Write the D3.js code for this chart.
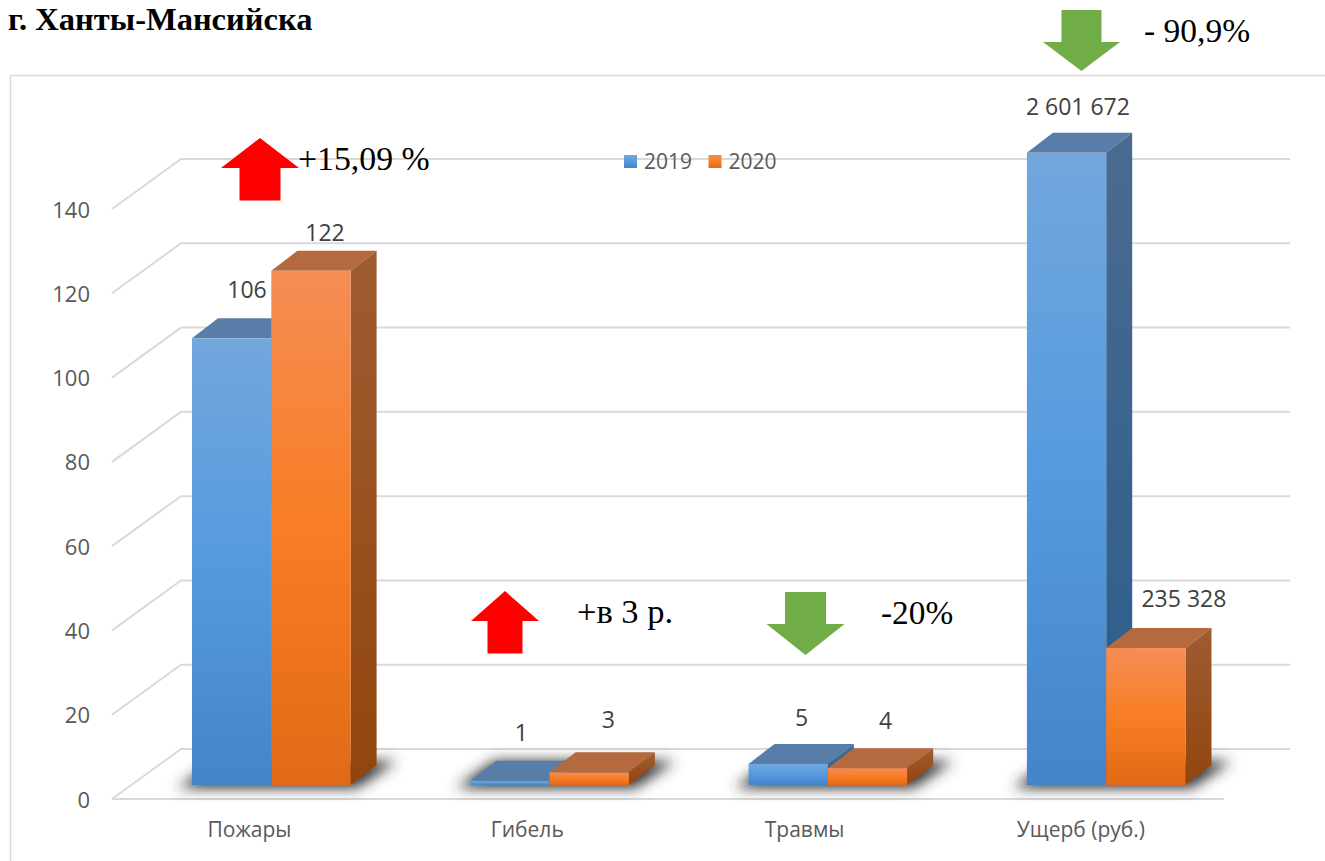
<!DOCTYPE html>
<html><head><meta charset="utf-8">
<script src="https://cdnjs.cloudflare.com/ajax/libs/d3/7.8.5/d3.min.js"></script>
<style>html,body{margin:0;padding:0;background:#fff;overflow:hidden}svg{display:block}</style>
</head><body><svg id="c" width="1325" height="861"></svg>
<script>
const categories = ["Пожары","Гибель","Травмы","Ущерб (руб.)"];
const seriesNames = ["2019","2020"];
const values2019 = [106,1,5,150];
const values2020 = [122,3,4,32.5];
const labels2019 = ["106","1","5","2 601 672"];
const labels2020 = ["122","3","4","235 328"];
const yTicks = [0,20,40,60,80,100,120,140];
const callouts = ["+15,09 %","+в 3 р.","-20%","- 90,9%"];
const calloutDirs = ["up","up","down","down"];
const title = "г. Ханты-Мансийска";

const svg = d3.select("#c");
const sans = "'Open Sans','Noto Sans',sans-serif", serif = "'Liberation Serif',serif";
const y = d3.scaleLinear().domain([0,140]).range([798,208]);
const barBase = 13, wallDx = 69, wallDy = -50, barDx = 26, barDy = -20;
const groupStep = 278.3, firstLeft = 192, barW = 79.3;
const gx = d3.scaleOrdinal().domain(categories).range(categories.map((c,i)=>firstLeft+i*groupStep));

const defs = svg.append("defs");
function grad(id,stops){
  const g=defs.append("linearGradient").attr("id",id).attr("x1",0).attr("x2",0).attr("y1",0).attr("y2",1);
  stops.forEach(s=>g.append("stop").attr("offset",s[0]).attr("stop-color",s[1]));
}
grad("bf",[[0,"#72a7dd"],[.5,"#559adf"],[1,"#4484c8"]]);
grad("of",[[0,"#f58d54"],[.5,"#f87d24"],[1,"#e26a16"]]);
grad("bs",[[0,"#4a6b90"],[1,"#2a5c8c"]]);
grad("os",[[0,"#9f5c32"],[1,"#92450d"]]);
defs.append("filter").attr("id","blur").attr("x","-20%").attr("y","-60%").attr("width","140%").attr("height","220%")
  .append("feGaussianBlur").attr("stdDeviation",7);

// frame
svg.append("path").attr("d","M10.5,861V75.5H1325").attr("fill","none").attr("stroke","#d9d9d9").attr("stroke-width",1.5);

// grid
const grid = svg.append("g").attr("fill","none").attr("stroke","#d9d9d9").attr("stroke-width",2);
yTicks.forEach(t=>{
  const py=y(t)+1;
  grid.append("path").attr("d",`M112,${py}L${112+wallDx},${py+wallDy}H1290`);
});
grid.append("path").attr("d",`M112,799H1224`);

// y labels
svg.append("g").selectAll("text").data(yTicks).join("text")
  .attr("x",90).attr("y",d=>y(d)+9.5).attr("text-anchor","end")
  .attr("font-family",sans).attr("font-size",22).attr("fill","#595959").text(d=>d);
// category labels
const catDx=[57.5,57,56,54];
svg.append("g").selectAll("text").data(categories).join("text")
  .attr("x",(d,i)=>gx(d)+catDx[i]).attr("y",837).attr("text-anchor","middle")
  .attr("font-family",sans).attr("font-size",21).attr("fill","#595959").text(d=>d);

// bars
const h = v => y(0)-y(v);
const base = y(0)-barBase;
function bar(g,left,v,fr,sd,tp){
  const t=base-h(v), r=left+barW;
  g.append("path").attr("fill",tp).attr("d",`M${left},${t}l${barDx},${barDy}H${r+barDx}L${r},${t}Z`);
  g.append("path").attr("fill",`url(#${sd})`).attr("d",`M${r},${t}l${barDx},${barDy}V${base+barDy}L${r},${base}Z`);
  g.append("rect").attr("x",left).attr("y",t).attr("width",barW).attr("height",base-t).attr("fill",`url(#${fr})`);
}
const shadows = svg.append("g").attr("filter","url(#blur)");
categories.forEach(c=>{
  const l=gx(c);
  shadows.append("path").attr("fill","#333").attr("d",`M${l-14},${base+3}H${l+2*barW+6}L${l+2*barW+46},${base-24}H${l+24}Z`);
});
const bars = svg.append("g");
categories.forEach((c,i)=>{
  const l=gx(c);
  bar(bars,l,values2019[i],"bf","bs","#577da8");
  bar(bars,l+barW,values2020[i],"of","os","#b5693e");
});

// data labels
const lab = svg.append("g").attr("font-family",sans).attr("font-size",23).attr("fill","#404040").attr("text-anchor","middle");
const lab19dx=[55,51,53,51], lab19dy=[-40,-40,-38,-38];
const lab20dx=[133,138,137,157], lab20dy=[-30,-44,-39,-41];
categories.forEach((c,i)=>{
  const l=gx(c);
  lab.append("text").attr("x",l+lab19dx[i]).attr("y",base-h(values2019[i])+lab19dy[i]).text(labels2019[i]);
  lab.append("text").attr("x",l+lab20dx[i]).attr("y",base-h(values2020[i])+lab20dy[i]).text(labels2020[i]);
});

// legend
const leg = svg.append("g");
seriesNames.forEach((n,i)=>{
  const lx=624+i*84.5;
  leg.append("rect").attr("x",lx).attr("y",155).attr("width",13).attr("height",13).attr("fill",`url(#${i?"of":"bf"})`);
  leg.append("text").attr("x",lx+20).attr("y",168.5).attr("font-family",sans).attr("font-size",21).attr("fill","#595959").text(n);
});

// arrows
const arrowSpec=[
 {cx:260,top:138,hw:39,sw:20.5,neck:30,len:62.5,c:"#ff0000"},
 {cx:505,top:591,hw:34,sw:17.5,neck:30,len:62.5,c:"#ff0000"},
 {cx:805.5,top:592,hw:39,sw:20.5,neck:32,len:63,c:"#70ad47"},
 {cx:1081.5,top:10,hw:38.5,sw:20,neck:32,len:61,c:"#70ad47"}];
const arrowG=svg.append("g");
arrowSpec.forEach((a,i)=>{
  const b=a.top+a.len;
  const p = calloutDirs[i]=="up"
   ? [[a.cx,a.top],[a.cx+a.hw,a.top+a.neck],[a.cx+a.sw,a.top+a.neck],[a.cx+a.sw,b],[a.cx-a.sw,b],[a.cx-a.sw,a.top+a.neck],[a.cx-a.hw,a.top+a.neck]]
   : [[a.cx,b],[a.cx+a.hw,a.top+a.neck],[a.cx+a.sw,a.top+a.neck],[a.cx+a.sw,a.top],[a.cx-a.sw,a.top],[a.cx-a.sw,a.top+a.neck],[a.cx-a.hw,a.top+a.neck]];
  arrowG.append("path").attr("d",d3.line()(p)+"Z").attr("fill",a.c);
});
const callPos=[[298,170,33.8],[577,623,34.5],[881,624,33.3],[1144,42,33.5]];
svg.append("g").selectAll("text").data(callouts).join("text")
  .attr("x",(d,i)=>callPos[i][0]).attr("y",(d,i)=>callPos[i][1]).attr("font-size",(d,i)=>callPos[i][2])
  .attr("font-family",serif).attr("fill","#000").text(d=>d);
svg.append("text").attr("x",8).attr("y",30).attr("font-family",serif).attr("font-weight","bold").attr("font-size",32.5).attr("fill","#000").text(title);
</script></body></html>
